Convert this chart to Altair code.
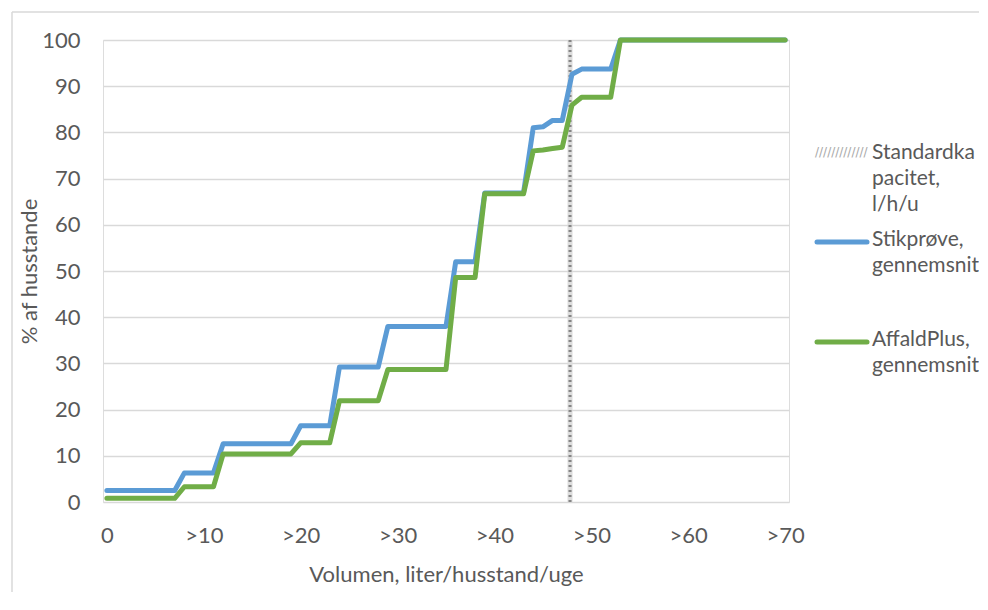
import altair as alt
import pandas as pd

# ---------------- data ----------------
volume = list(range(0, 71))
stikproeve = [
    2.5, 2.5, 2.5, 2.5, 2.5, 2.5, 2.5, 2.5,
    6.3, 6.3, 6.3, 6.3,
    12.6, 12.6, 12.6, 12.6, 12.6, 12.6, 12.6, 12.6,
    16.5, 16.5, 16.5, 16.5,
    29.2, 29.2, 29.2, 29.2, 29.2,
    38.0, 38.0, 38.0, 38.0, 38.0, 38.0, 38.0,
    52.0, 52.0, 52.0,
    66.9, 66.9, 66.9, 66.9, 66.9,
    81.0, 81.2, 82.6, 82.6, 92.6,
    93.7, 93.7, 93.7, 93.7,
    100, 100, 100, 100, 100, 100, 100, 100, 100,
    100, 100, 100, 100, 100, 100, 100, 100, 100,
]
affaldplus = [
    0.8, 0.8, 0.8, 0.8, 0.8, 0.8, 0.8, 0.8,
    3.3, 3.3, 3.3, 3.3,
    10.4, 10.4, 10.4, 10.4, 10.4, 10.4, 10.4, 10.4,
    12.8, 12.8, 12.8, 12.8,
    21.9, 21.9, 21.9, 21.9, 21.9,
    28.7, 28.7, 28.7, 28.7, 28.7, 28.7, 28.7,
    48.6, 48.6, 48.6,
    66.7, 66.7, 66.7, 66.7, 66.7,
    76.0, 76.2, 76.5, 76.8, 85.9,
    87.6, 87.6, 87.6, 87.6,
    100, 100, 100, 100, 100, 100, 100, 100, 100,
    100, 100, 100, 100, 100, 100, 100, 100, 100,
]
standard_kapacitet = 47.8
x_ticks = [0, 10, 20, 30, 40, 50, 60, 70]
y_ticks = [0, 10, 20, 30, 40, 50, 60, 70, 80, 90, 100]
series_names = ["Stikprøve, gennemsnit", "AffaldPlus, gennemsnit"]
legend_labels = ["Standardka\npacitet,\nl/h/u", "Stikprøve,\ngennemsnit", "AffaldPlus,\ngennemsnit"]
x_title = "Volumen, liter/husstand/uge"
y_title = "% af husstande"

BLUE = "#5b9bd5"
GREEN = "#70ad47"
TXT = "#595959"
GRID = "#d9d9d9"
FONT = "Lato"

W, H = 686, 462

df_blue = pd.DataFrame({"x": volume, "y": stikproeve, "s": series_names[0]})
df_green = pd.DataFrame({"x": volume, "y": affaldplus, "s": series_names[1]})
df_std = pd.DataFrame({"x": [standard_kapacitet], "y0": [0], "y1": [100]})

xscale = alt.Scale(domain=[-0.4, 70.4], nice=False, zero=False)
yscale = alt.Scale(domain=[0, 100], nice=False)

xaxis = alt.Axis(
    values=x_ticks, labelExpr="datum.value == 0 ? '0' : '>' + datum.value",
    grid=False, ticks=False, domain=False, labelPadding=23,
    labelFont=FONT, labelFontSize=22, labelColor=TXT,
    title=x_title, titleFont=FONT, titleFontSize=22, titleColor=TXT,
    titleFontWeight="normal", titlePadding=18,
)
yaxis = alt.Axis(
    values=y_ticks, grid=True, gridColor=GRID, gridWidth=1.3,
    ticks=False, domain=False, labelPadding=23,
    labelFont=FONT, labelFontSize=22, labelColor=TXT,
    title=y_title, titleFont=FONT, titleFontSize=22, titleColor=TXT,
    titleFontWeight="normal", titlePadding=0,
)

base_axes = alt.Chart(df_blue).mark_line(opacity=0).encode(
    x=alt.X("x:Q", scale=xscale, axis=xaxis),
    y=alt.Y("y:Q", scale=yscale, axis=yaxis),
)

std_back = alt.Chart(df_std).mark_rule(color="#dcdcdc", strokeWidth=5).encode(
    x=alt.X("x:Q", scale=xscale), y=alt.Y("y0:Q", scale=yscale), y2="y1:Q"
)
std_front = alt.Chart(df_std).mark_rule(color="#858585", strokeWidth=3, strokeDash=[2, 3]).encode(
    x=alt.X("x:Q", scale=xscale), y=alt.Y("y0:Q", scale=yscale), y2="y1:Q"
)

line_blue = alt.Chart(df_blue).mark_line(color=BLUE, strokeWidth=5, strokeCap="round", strokeJoin="round").encode(
    x=alt.X("x:Q", scale=xscale), y=alt.Y("y:Q", scale=yscale)
)
line_green = alt.Chart(df_green).mark_line(color=GREEN, strokeWidth=5, strokeCap="round", strokeJoin="round").encode(
    x=alt.X("x:Q", scale=xscale), y=alt.Y("y:Q", scale=yscale)
)

# chart frame (left and top border)
frame_left = alt.Chart(df_std).mark_rule(color=GRID, strokeWidth=1.5).encode(
    x=alt.value(-91), y=alt.value(-28), y2=alt.value(H + 120)
)
frame_top = alt.Chart(df_std).mark_rule(color=GRID, strokeWidth=1.5).encode(
    x=alt.value(-91), x2=alt.value(W + 230), y=alt.value(-28)
)

# legend
leg_hatch = alt.Chart(df_std).mark_text(
    text="/////////////", font="DejaVu Sans", fontSize=12, color="#a8a8a8", align="left", baseline="middle"
).encode(x=alt.value(712), y=alt.value(112))
leg_blue = alt.Chart(df_std).mark_rule(color=BLUE, strokeWidth=5, strokeCap="round").encode(
    x=alt.value(714), x2=alt.value(764), y=alt.value(202)
)
leg_green = alt.Chart(df_std).mark_rule(color=GREEN, strokeWidth=5, strokeCap="round").encode(
    x=alt.value(714), x2=alt.value(764), y=alt.value(302)
)
leg_t1 = alt.Chart(df_std).mark_text(
    text=legend_labels[0], lineBreak="\n", lineHeight=26, font=FONT, fontSize=21,
    color=TXT, align="left", baseline="middle"
).encode(x=alt.value(769), y=alt.value(113))
leg_t2 = alt.Chart(df_std).mark_text(
    text=legend_labels[1], lineBreak="\n", lineHeight=26, font=FONT, fontSize=21,
    color=TXT, align="left", baseline="middle"
).encode(x=alt.value(769), y=alt.value(200))
leg_t3 = alt.Chart(df_std).mark_text(
    text=legend_labels[2], lineBreak="\n", lineHeight=26, font=FONT, fontSize=21,
    color=TXT, align="left", baseline="middle"
).encode(x=alt.value(769), y=alt.value(300))

chart = alt.layer(
    base_axes, std_back, std_front, line_blue, line_green,
    frame_left, frame_top, leg_hatch, leg_blue, leg_green, leg_t1, leg_t2, leg_t3,
).properties(
    width=W, height=H,
    autosize=alt.AutoSizeParams(type="none"),
    padding={"left": 95, "top": 32, "right": 190, "bottom": 90},
).configure_view(stroke=None).configure(background="white")

chart.save("out.html", embed_options={"renderer": "svg", "actions": False})
